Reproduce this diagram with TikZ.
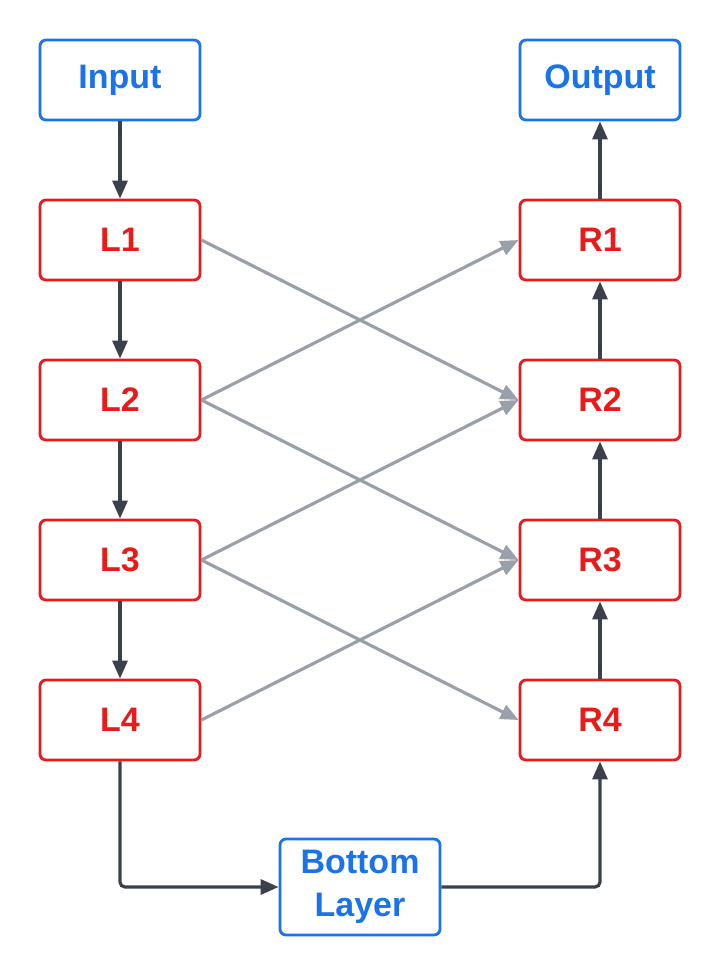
\documentclass[tikz,border=0pt]{standalone}
\usepackage{fontspec}
\setmainfont{Liberation Sans}
\usetikzlibrary{arrows.meta}
\definecolor{bluec}{HTML}{1A73E8}
\definecolor{redc}{HTML}{E81A1A}
\definecolor{darkc}{HTML}{3C4048}
\definecolor{grayc}{HTML}{9AA0A8}
\tikzset{
  box/.style={draw, line width=2.8pt, rounded corners=6pt, minimum width=160pt, minimum height=80pt, inner sep=0pt, align=center, font=\fontsize{34}{43}\selectfont\bfseries, fill=white},
  bluebox/.style={box, draw=bluec, text=bluec},
  redbox/.style={box, draw=redc, text=redc},
  darkarrow/.style={draw=darkc, line width=3.2pt, -{Triangle[length=18pt,width=15pt]}, rounded corners=5pt},
  grayarrow/.style={draw=grayc, line width=3.2pt, -{Triangle[length=18pt,width=15pt]}}
}
\begin{document}
\begin{tikzpicture}[x=1pt,y=-1pt]
\useasboundingbox (0,0) rectangle (720,975);
\node[bluebox] (in) at (120,80) {\raisebox{2pt}{Input}};
\node[bluebox] (out) at (600,80) {\raisebox{2pt}{Output}};
\node[redbox] (l1) at (120,240) {L1};
\node[redbox] (l2) at (120,400) {L2};
\node[redbox] (l3) at (120,560) {L3};
\node[redbox] (l4) at (120,720) {L4};
\node[redbox] (r1) at (600,240) {R1};
\node[redbox] (r2) at (600,400) {R2};
\node[redbox] (r3) at (600,560) {R3};
\node[redbox] (r4) at (600,720) {R4};
\node[bluebox, minimum height=96pt] (bot) at (360,887) {Bottom\\Layer};
\coordinate (bl) at (120,887);
\coordinate (br) at (600,887);
\draw[grayarrow] (l1.east) -- (r2.west);
\draw[grayarrow] (l2.east) -- (r1.west);
\draw[grayarrow] (l2.east) -- (r3.west);
\draw[grayarrow] (l3.east) -- (r2.west);
\draw[grayarrow] (l3.east) -- (r4.west);
\draw[grayarrow] (l4.east) -- (r3.west);
\draw[darkarrow] (in) -- (l1);
\draw[darkarrow] (l1) -- (l2);
\draw[darkarrow] (l2) -- (l3);
\draw[darkarrow] (l3) -- (l4);
\draw[darkarrow] (r4) -- (r3);
\draw[darkarrow] (r3) -- (r2);
\draw[darkarrow] (r2) -- (r1);
\draw[darkarrow] (r1) -- (out);
\draw[darkarrow] (l4.south) -- (bl) -- (bot.west);
\draw[darkarrow] (bot.east) -- (br) -- (r4.south);
\end{tikzpicture}
\end{document}
